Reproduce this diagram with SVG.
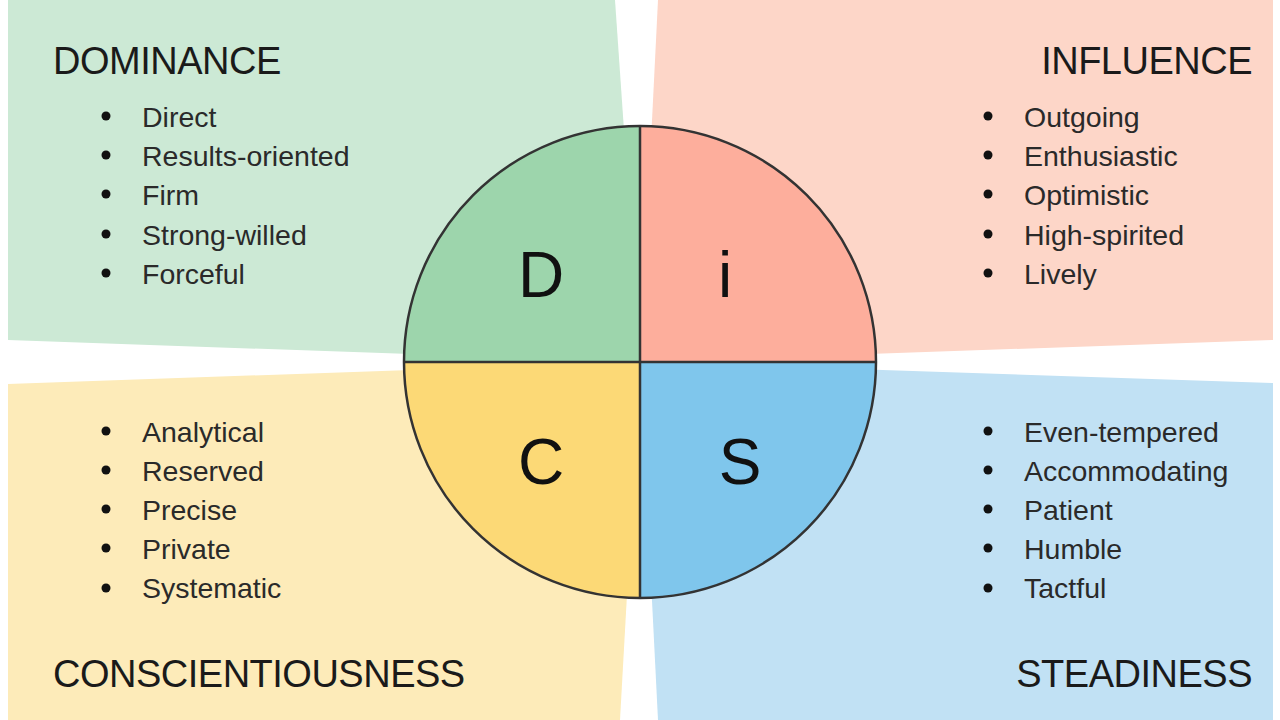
<svg xmlns="http://www.w3.org/2000/svg" width="1280" height="720" viewBox="0 0 1280 720">
<style>
.h{font-family:"Liberation Sans",Arial,sans-serif;font-size:38px;letter-spacing:-0.5px;fill:#1a1a1a}
.it{font-family:"Liberation Sans",Arial,sans-serif;font-size:28.5px;fill:#2a2a2a}
.big{font-family:"Liberation Sans",Arial,sans-serif;font-size:64px;fill:#111;text-anchor:middle}
.q{stroke:#333;stroke-width:2.5}
</style>
<rect width="1280" height="720" fill="#ffffff"/>
<g id="panels">
<polygon points="8,0 615,0 640,362 8,340" fill="#cce9d5"/>
<polygon points="658,0 1273,0 1273,340 640,362" fill="#fdd6c8"/>
<polygon points="8,384 640,362 620,720 8,720" fill="#fdebb9"/>
<polygon points="640,362 1273,383 1273,720 658,720" fill="#c1e1f4"/>
</g>
<g id="disc">
<path d="M640,362 L404,362 A236,236 0 0 1 640,126 Z" fill="#9dd5ac"/>
<path d="M640,362 L640,126 A236,236 0 0 1 876,362 Z" fill="#fdae9c"/>
<path d="M640,362 L640,598 A236,236 0 0 1 404,362 Z" fill="#fcd976"/>
<path d="M640,362 L876,362 A236,236 0 0 1 640,598 Z" fill="#7fc6ec"/>
<circle cx="640" cy="362" r="236" fill="none" class="q"/>
<line x1="404" y1="362" x2="876" y2="362" class="q"/>
<line x1="640" y1="126" x2="640" y2="598" class="q"/>
<text class="big" x="541" y="297">D</text>
<text class="big" x="725" y="297">i</text>
<text class="big" x="541" y="484">C</text>
<text class="big" x="740" y="484">S</text>
</g>
<g id="dominance">
<text class="h" x="53" y="74">DOMINANCE</text>
<g fill="#111"><circle cx="106" cy="116" r="4.5"/><circle cx="106" cy="155" r="4.5"/><circle cx="106" cy="194" r="4.5"/><circle cx="106" cy="234" r="4.5"/><circle cx="106" cy="273" r="4.5"/></g>
<text class="it" x="142" y="127">Direct</text>
<text class="it" x="142" y="166">Results-oriented</text>
<text class="it" x="142" y="205">Firm</text>
<text class="it" x="142" y="245">Strong-willed</text>
<text class="it" x="142" y="284">Forceful</text>
</g>
<g id="influence">
<text class="h" x="1252" y="74" text-anchor="end">INFLUENCE</text>
<g fill="#111"><circle cx="988" cy="116" r="4.5"/><circle cx="988" cy="155" r="4.5"/><circle cx="988" cy="194" r="4.5"/><circle cx="988" cy="234" r="4.5"/><circle cx="988" cy="273" r="4.5"/></g>
<text class="it" x="1024" y="127">Outgoing</text>
<text class="it" x="1024" y="166">Enthusiastic</text>
<text class="it" x="1024" y="205">Optimistic</text>
<text class="it" x="1024" y="245">High-spirited</text>
<text class="it" x="1024" y="284">Lively</text>
</g>
<g id="conscientiousness">
<g fill="#111"><circle cx="106" cy="431" r="4.5"/><circle cx="106" cy="470" r="4.5"/><circle cx="106" cy="509" r="4.5"/><circle cx="106" cy="548" r="4.5"/><circle cx="106" cy="588" r="4.5"/></g>
<text class="it" x="142" y="442">Analytical</text>
<text class="it" x="142" y="481">Reserved</text>
<text class="it" x="142" y="520">Precise</text>
<text class="it" x="142" y="559">Private</text>
<text class="it" x="142" y="598">Systematic</text>
<text class="h" x="53" y="687">CONSCIENTIOUSNESS</text>
</g>
<g id="steadiness">
<g fill="#111"><circle cx="988" cy="431" r="4.5"/><circle cx="988" cy="470" r="4.5"/><circle cx="988" cy="509" r="4.5"/><circle cx="988" cy="548" r="4.5"/><circle cx="988" cy="588" r="4.5"/></g>
<text class="it" x="1024" y="442">Even-tempered</text>
<text class="it" x="1024" y="481">Accommodating</text>
<text class="it" x="1024" y="520">Patient</text>
<text class="it" x="1024" y="559">Humble</text>
<text class="it" x="1024" y="598">Tactful</text>
<text class="h" x="1252" y="687" text-anchor="end">STEADINESS</text>
</g>
</svg>
